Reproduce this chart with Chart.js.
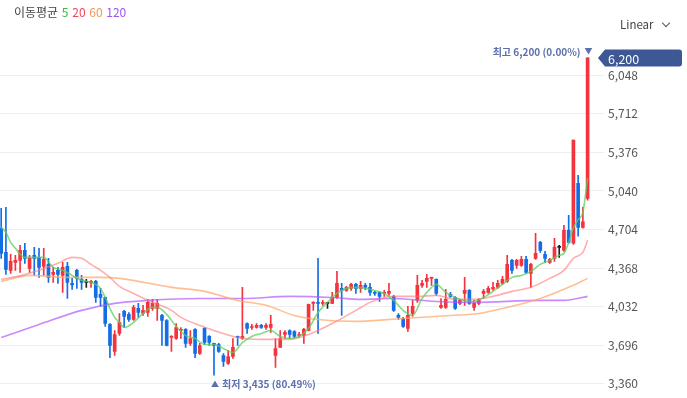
<!DOCTYPE html>
<html>
<head>
<meta charset="utf-8">
<script src="https://cdn.jsdelivr.net/npm/chart.js@4"></script>
<style>
  html, body { margin: 0; padding: 0; background: #fff; }
  #wrap { position: relative; width: 687px; height: 398px; overflow: hidden;
          font-family: "Noto Sans CJK KR", "Noto Sans", sans-serif; }
  #chart { position: absolute; left: 0; top: 0; }
  #legend { position: absolute; left: 14px; top: 3px; font-size: 12px; color: #444; white-space: nowrap; }
  #legend span { margin-left: 1px; }
  #scaleMode { position: absolute; left: 620px; top: 16px; font-size: 11.5px; color: #444; }
  #scaleMode i { display: inline-block; width: 5px; height: 5px; margin-left: 9px; position: relative; top: -3px;
                 border-right: 1.2px solid #555; border-bottom: 1.2px solid #555; transform: rotate(45deg); }
</style>
</head>
<body>
<div id="wrap">
  <canvas id="chart" width="687" height="398"></canvas>
  <div id="legend">이동평균 <span style="color:#3cb83c">5</span> <span style="color:#f2455c">20</span> <span style="color:#f2955a">60</span> <span style="color:#9d55f0">120</span></div>
  <div id="scaleMode">Linear<i></i></div>
</div>
<script>
// daily candles, oldest first
const opens = [4715,4505,4348,4418,4435,4522,4365,4479,4461,4383, 4400,4313,4348,4304,4383,4234,4348,4269,4243,4239,
  4252,4138,4112,3877,3641,3798,3990,3964,3920,4016, 3972,3981,4016,4016,3955,3911,3763,3754,3824,3833,
  3711,3833,3623,3842,3772,3711,3702,3606,3536,3597, 3772,3754,3885,3850,3850,3868,3850,3850,3606,3676,
  3789,3824,3815,3780,3780,3824,4060,4069,4060,4060, 4060,4112,4191,4173,4191,4226,4191,4217,4200,4156,
  4156,4147,4147,4121,3955,3929,3842,3972,4086,4217, 4252,4278,4269,4025,4025,4138,4112,4060,4147,4173,
  4025,4060,4147,4156,4186,4200,4234,4252,4435,4392, 4392,4444,4322,4453,4592,4488,4418,4453,4549,4522,
  4697,4584,5107,4723,4976];
const highs = [4889,4898,4488,4479,4566,4584,4479,4549,4540,4540, 4453,4374,4374,4418,4418,4278,4357,4304,4269,4261,
  4261,4191,4115,3885,3824,3972,3999,3981,4043,4060, 4043,4095,4095,4095,3964,3920,3780,3885,3850,3840,
  3824,3840,3711,3850,3780,3715,3711,3623,3650,3754, 3775,4200,3890,3877,3885,3877,3885,3955,3754,3824,
  3824,3830,3824,3807,3842,4055,4075,4453,4086,4069, 4156,4339,4234,4208,4234,4234,4252,4234,4234,4165,
  4160,4173,4234,4130,3972,3938,4034,4086,4304,4261, 4313,4290,4275,4103,4182,4156,4120,4095,4287,4180,
  4086,4103,4182,4208,4243,4261,4296,4479,4444,4444, 4470,4470,4409,4671,4601,4514,4453,4627,4566,4741,
  4828,5483,5177,4898,6200];
const lows = [4453,4313,4322,4348,4330,4409,4330,4304,4287,4304, 4243,4243,4234,4156,4103,4182,4191,4182,4200,4200,
  4069,4034,3859,3588,3606,3780,3850,3903,3911,3938, 3955,3946,3999,3911,3693,3690,3641,3746,3754,3676,
  3693,3588,3615,3702,3693,3435,3632,3510,3527,3580, 3693,3746,3798,3833,3845,3842,3833,3807,3501,3676,
  3754,3754,3760,3763,3711,3820,3999,3798,4043,4016, 4060,4103,3955,4165,4173,4147,4156,4180,4130,4130,
  4077,4121,4130,3990,3920,3850,3815,3946,4069,4200, 4200,4217,4130,4016,4016,4112,4008,4050,4043,4051,
  3999,4050,4103,4147,4173,4191,4226,4243,4322,4365, 4383,4322,4200,4444,4505,4418,4409,4426,4461,4514,
  4584,4575,4645,4715,4960];
const closes = [4496,4357,4426,4435,4522,4453,4453,4453,4374,4444, 4287,4330,4313,4374,4243,4221,4278,4243,4243,4252,
  4112,4112,3885,3693,3789,3894,3946,3920,4025,3981, 3999,4069,4060,4060,3911,3693,3772,3850,3833,3711,
  3754,3623,3693,3719,3719,3693,3641,3554,3597,3676, 3763,3772,3842,3859,3868,3850,3868,3877,3667,3754,
  3807,3789,3772,3789,3833,4051,4069,4060,4069,4060, 4112,4234,4173,4200,4226,4191,4217,4200,4156,4147,
  4121,4156,4165,3999,3938,3859,3955,4034,4217,4234, 4278,4287,4147,4043,4095,4121,4016,4086,4173,4060,
  4060,4095,4165,4191,4200,4234,4269,4400,4348,4435, 4444,4330,4400,4496,4522,4453,4444,4549,4549,4697,
  4592,5483,4723,4770,6200];

// moving averages as [candle index, value]
const ma5 = [[0,4723],[1,4680],[2,4592],[3,4540],[4,4488],[5,4461],[7,4461],[9,4461],[11,4374],[13,4348],
  [15,4304],[17,4261],[19,4243],[21,4191],[22,4112],[23,4016],[24,3938],[25,3894],[26,3850],[28,3894],
  [30,3972],[32,4025],[33,4025],[35,3964],[37,3859],[39,3780],[41,3754],[43,3702],[45,3702],[47,3667],
  [49,3632],[51,3719],[53,3772],[55,3798],[57,3824],[59,3772],[61,3754],[63,3772],[65,3842],[67,3981],
  [69,4069],[71,4147],[73,4191],[75,4200],[77,4191],[79,4173],[81,4147],[83,4086],[85,3999],[87,3955],
  [89,4103],[91,4200],[92,4226],[94,4156],[96,4112],[98,4086],[100,4077],[102,4112],[104,4165],[106,4226],
  [108,4287],[110,4304],[112,4339],[114,4400],[116,4435],[118,4479],[119,4496],[120,4592],[121,4720],
  [122,4790],[123,4854],[124,5151]];
const ma20 = [[0,4269],[4,4300],[8,4348],[12,4409],[15,4461],[17,4453],[19,4400],[21,4348],[23,4287],
  [25,4208],[28,4147],[31,4086],[36,3999],[38,3938],[42,3868],[50,3763],[55,3746],[61,3746],[65,3789],
  [70,3885],[75,3999],[78,4069],[83,4121],[88,4121],[92,4130],[96,4095],[100,4095],[104,4121],[108,4165],
  [112,4200],[116,4278],[119,4348],[121,4453],[123,4505],[124,4610]];
const ma60 = [[0,4252],[6,4304],[14,4287],[21,4287],[25,4278],[36,4200],[43,4165],[50,4086],[56,4043],
  [62,3955],[67,3920],[75,3903],[85,3929],[95,3955],[101,3972],[107,4025],[114,4103],[120,4200],[124,4278]];
const ma120 = [[0,3763],[8,3876],[17,3999],[24,4060],[31,4086],[42,4103],[51,4103],[61,4121],[70,4112],
  [76,4095],[83,4103],[92,4077],[100,4069],[114,4086],[119,4086],[124,4121]];

const yTicks = [3360, 3696, 4032, 4368, 4704, 5040, 5376, 5712, 6048];

const UP = "#f5333f", DOWN = "#136ee6", FLAT = "#222";
const candleColors = opens.map((o, i) => closes[i] > o ? UP : (closes[i] < o ? DOWN : FLAT));
const fmt = v => v.toLocaleString("en-US");

function maDataset(points, color) {
    return {
        type: "line",
        data: points.map(p => ({ x: p[0], y: p[1] })),
        borderColor: color,
        borderWidth: 1.6,
        pointRadius: 0,
        cubicInterpolationMode: "monotone",
        order: 1
    };
}

// high / low markers and the last price badge
const markers = {
    id: "markers",
    afterDraw(chart) {
        const ctx = chart.ctx;
        const xs = chart.scales.x, ys = chart.scales.y;
        const hiVal = Math.max(...highs), hiIdx = highs.indexOf(hiVal);
        const loVal = Math.min(...lows), loIdx = lows.indexOf(loVal);
        const last = closes[closes.length - 1];
        const font = '"Noto Sans CJK KR", "Noto Sans", sans-serif';
        ctx.save();
        ctx.fillStyle = "#5b70ad";
        ctx.textBaseline = "middle";

        const hx = xs.getPixelForValue(hiIdx), hy = ys.getPixelForValue(hiVal);
        ctx.font = "8px " + font;
        ctx.textAlign = "center";
        ctx.fillText("▼", hx + 1, hy - 7);
        ctx.font = "600 10px " + font;
        ctx.textAlign = "right";
        const hiPct = ((last - hiVal) / hiVal * 100).toFixed(2);
        ctx.fillText("최고 " + fmt(hiVal) + " (" + hiPct + "%)", hx - 7, hy - 6);

        const lx = xs.getPixelForValue(loIdx), ly = ys.getPixelForValue(loVal);
        ctx.font = "8px " + font;
        ctx.textAlign = "center";
        ctx.fillText("▲", lx + 1, ly + 9);
        ctx.font = "600 10px " + font;
        ctx.textAlign = "left";
        const loPct = ((last - loVal) / loVal * 100).toFixed(2);
        ctx.fillText("최저 " + fmt(loVal) + " (" + loPct + "%)", lx + 8, ly + 9);

        // badge on the axis
        const by = ys.getPixelForValue(last);
        const bx = chart.chartArea.right;
        const r = 3, h = 8.5, right = 682;
        ctx.fillStyle = "#3d5895";
        ctx.beginPath();
        ctx.moveTo(bx, by);
        ctx.lineTo(bx + 7, by - h);
        ctx.lineTo(right - r, by - h);
        ctx.quadraticCurveTo(right, by - h, right, by - h + r);
        ctx.lineTo(right, by + h - r);
        ctx.quadraticCurveTo(right, by + h, right - r, by + h);
        ctx.lineTo(bx + 7, by + h);
        ctx.closePath();
        ctx.fill();
        ctx.fillStyle = "#fff";
        ctx.font = "12.5px " + font;
        ctx.textAlign = "left";
        ctx.fillText(fmt(last), bx + 10, by + 1);
        ctx.restore();
    }
};

new Chart(document.getElementById("chart"), {
    type: "bar",
    data: {
        datasets: [
            maDataset(ma5, "rgba(92, 206, 92, 0.75)"),
            maDataset(ma20, "rgba(255, 120, 120, 0.6)"),
            maDataset(ma60, "rgba(255, 170, 110, 0.75)"),
            maDataset(ma120, "rgba(175, 90, 255, 0.7)"),
            {
                // wicks
                data: opens.map((o, i) => ({ x: i, y: [lows[i], highs[i]] })),
                backgroundColor: candleColors,
                barThickness: 1,
                grouped: false,
                minBarLength: 1,
                order: 3
            },
            {
                // bodies
                data: opens.map((o, i) => ({ x: i, y: [o, closes[i]] })),
                backgroundColor: candleColors,
                barThickness: 3,
                grouped: false,
                minBarLength: 1,
                order: 2
            }
        ]
    },
    options: {
        responsive: false,
        animation: false,
        layout: { padding: { top: 40, left: 0, right: 0, bottom: 0 } },
        plugins: { legend: { display: false }, tooltip: { enabled: false } },
        scales: {
            x: {
                type: "linear",
                min: -0.25,
                max: 126.2,
                offset: false,
                display: false
            },
            y: {
                position: "right",
                min: 3333,
                max: 6356,
                afterBuildTicks: scale => { scale.ticks = yTicks.map(v => ({ value: v })); },
                afterFit: scale => { scale.width = 89; },
                grid: { color: "#efefef", tickLength: 6, drawTicks: true },
                border: { display: false },
                ticks: {
                    color: "#555",
                    padding: 4,
                    font: { family: '"Noto Sans CJK KR", "Noto Sans", sans-serif', size: 12 },
                    callback: v => fmt(v)
                }
            }
        }
    },
    plugins: [markers]
});
</script>
</body>
</html>
